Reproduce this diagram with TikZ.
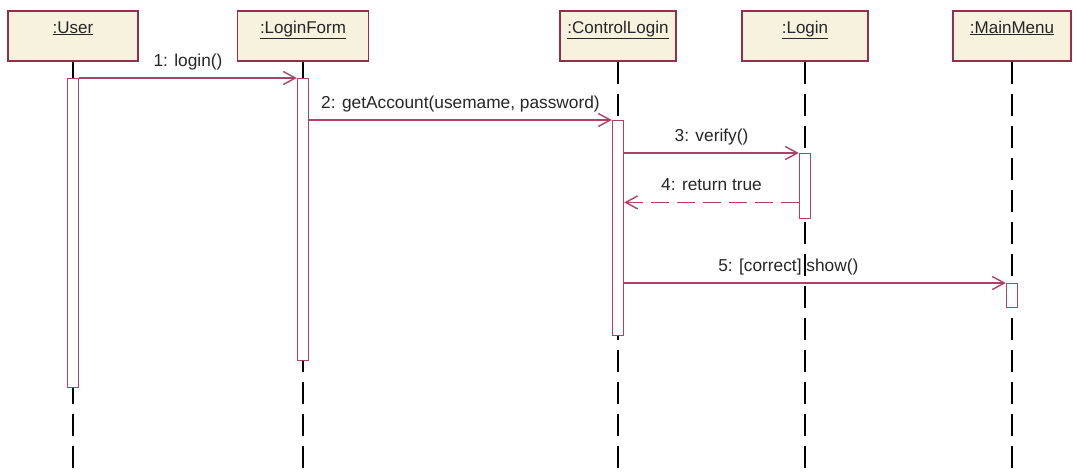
\documentclass[tikz,border=0pt]{standalone}
\usepackage{fontspec}
\setmainfont{Liberation Sans}
\usetikzlibrary{arrows.meta}
\definecolor{boxfill}{RGB}{246,242,222}
\definecolor{boxline}{RGB}{150,45,75}
\definecolor{msgline}{RGB}{175,65,100}
\tikzset{
 obj/.style={draw=boxline, line width=1.6pt, fill=boxfill, minimum height=50pt, text height=12pt, text depth=18pt, inner sep=0pt, font=\fontsize{17}{19}\selectfont, text=black!85},
 life/.style={draw=black, line width=1.8pt, dash pattern=on 22pt off 10pt},
 actbar/.style={draw=msgline, line width=1.4pt, fill=white, minimum width=11pt, inner sep=0pt, anchor=north},
 msg/.style={draw=msgline, line width=1.4pt, -{Straight Barb[length=12pt,width=13pt,line width=1.4pt]}},
 ret/.style={msg, dash pattern=on 18pt off 8pt},
 lbl/.style={anchor=base, yshift=11.5pt, font=\fontsize{17.3}{19}\selectfont, text=black!85, inner sep=0pt},
}
\begin{document}
\begin{tikzpicture}[x=1pt,y=-1pt]
\useasboundingbox (0,0) rectangle (1079,472);
\fill[white] (0,0) rectangle (1079,472);
\coordinate (bot) at (0,472);
% objects
\node[obj, minimum width=130pt] (u) at (73,36) {\underline{:User}};
\node[obj, minimum width=131pt] (f) at (303,36) {\underline{:LoginForm}};
\node[obj, minimum width=116pt] (c) at (618,36) {\underline{:ControlLogin}};
\node[obj, minimum width=126pt] (l) at (805,36) {\underline{:Login}};
\node[obj, minimum width=118pt] (m) at (1012,36) {\underline{:MainMenu}};
% lifelines
\foreach \o in {u,f,c,l,m} \draw[life] (\o.south) -- (\o.south |- bot);
% activation bars
\node[actbar, minimum height=309pt] (ub) at (73,78) {};
\node[actbar, minimum height=282pt] (fb) at (303,78) {};
\node[actbar, minimum height=215pt] (cb) at (618,120) {};
\node[actbar, minimum height=65pt] (lb) at (805,153) {};
\node[actbar, minimum height=24pt] (mb) at (1012,283) {};
% messages
\draw[msg] (ub.north east) -- node[lbl]{1: login()} (fb.north west);
\draw[msg] (fb.east |- cb.north) -- node[lbl]{2: getAccount(usemame, password)} (cb.north west);
\draw[msg] (cb.east |- lb.north) -- node[lbl]{3: verify()} (lb.north west);
\coordinate (r4) at ([yshift=17pt]lb.south west);
\draw[ret] (r4) -- node[lbl]{4: return true} (cb.east |- r4);
\draw[msg] (cb.east |- mb.north) -- node[lbl, pos=0.43]{5: [correct] show()} (mb.north west);
\end{tikzpicture}
\end{document}
